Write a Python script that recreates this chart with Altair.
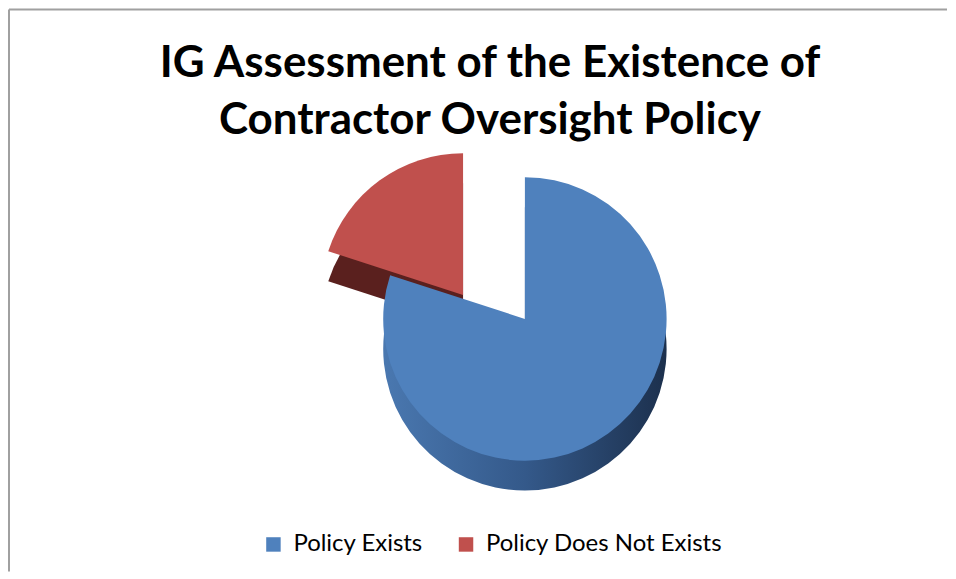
import altair as alt
import pandas as pd

categories = ["Policy Exists", "Policy Does Not Exists"]
values = [80, 20]
order = [1, 2]
title_lines = ["IG Assessment of the Existence of", "Contractor Oversight Policy"]

top_colors = ["#4F81BD", "#C0504D"]

df = pd.DataFrame({"category": categories, "value": values, "order": order})
title_df = pd.DataFrame({"line": [0]})

W, H = 940, 563
CX, CY = 517, 310
R = 142
DEPTH = 30
EXP_X, EXP_Y = -62, -24

base = alt.Chart(df).transform_stack(
    stack="value", groupby=[], as_=["t0", "t1"], sort=[alt.SortField("order")]
)

theta = alt.Theta("t0:Q", scale=alt.Scale(domain=[0, 100]))
theta2 = alt.Theta2("t1:Q")

blue_side_fill = alt.Gradient(
    gradient="linear",
    stops=[alt.GradientStop(color="#4a78b0", offset=0),
           alt.GradientStop(color="#34598a", offset=0.5),
           alt.GradientStop(color="#1c304d", offset=1)],
    x1=0, x2=1, y1=0, y2=0,
)

red_side = base.transform_filter(alt.datum.category == categories[1]).mark_arc(
    outerRadius=R, fill="#5a201e", xOffset=EXP_X, yOffset=EXP_Y + DEPTH
).encode(theta=theta, theta2=theta2, x=alt.value(CX), y=alt.value(CY))

red_top = base.transform_filter(alt.datum.category == categories[1]).mark_arc(
    outerRadius=R, xOffset=EXP_X, yOffset=EXP_Y
).encode(
    theta=theta, theta2=theta2, x=alt.value(CX), y=alt.value(CY),
    color=alt.Color("category:N", scale=alt.Scale(domain=categories, range=top_colors),
                    legend=alt.Legend(title=None, orient="none", legendX=253, legendY=524,
                                      direction="horizontal", columns=2, columnPadding=31,
                                      symbolType="square", symbolSize=210, symbolStrokeWidth=0,
                                      labelFont="Lato", labelFontSize=24, labelColor="#000000",
                                      labelLimit=400, labelOffset=8)),
)

blue_side = base.transform_filter(alt.datum.category == categories[0]).mark_arc(
    outerRadius=R, fill=blue_side_fill, yOffset=DEPTH
).encode(theta=theta, theta2=theta2, x=alt.value(CX), y=alt.value(CY))

blue_top = base.transform_filter(alt.datum.category == categories[0]).mark_arc(
    outerRadius=R
).encode(
    theta=theta, theta2=theta2, x=alt.value(CX), y=alt.value(CY),
    color=alt.Color("category:N", scale=alt.Scale(domain=categories, range=top_colors)),
)

title_text = alt.Chart(title_df).mark_text(
    text=title_lines, font="Lato", fontSize=44, fontWeight="bold", color="#000000",
    align="center", baseline="alphabetic", lineHeight=57,
).encode(x=alt.value(482), y=alt.value(68))

frame_top = alt.Chart(title_df).mark_rule(color="#a0a0a0", strokeWidth=2).encode(
    x=alt.value(0), x2=alt.value(W), y=alt.value(0)
)
frame_left = alt.Chart(title_df).mark_rule(color="#a0a0a0", strokeWidth=2).encode(
    x=alt.value(0), y=alt.value(0), y2=alt.value(H)
)

chart = alt.layer(
    red_side, red_top, blue_side, blue_top, title_text, frame_top, frame_left
).properties(
    width=W, height=H, padding=0,
).configure_view(stroke=None)

chart.save("out.html", embed_options={"renderer": "svg", "actions": False})
